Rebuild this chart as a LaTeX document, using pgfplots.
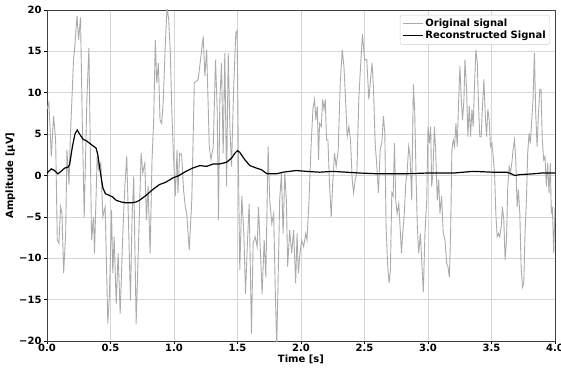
\documentclass[border=0pt]{standalone}
\usepackage{fontspec}
\setmainfont{DejaVu Sans}
\usepackage{pgfplots}
\pgfplotsset{compat=1.18}
\usepackage{pgfplotstable}
\definecolor{origgrey}{HTML}{ABABAB}
\definecolor{gridgrey}{HTML}{D6D6D6}
\pgfplotstableread{
t v
0.000 8.0
0.015 8.8
0.034 2.3
0.052 7.2
0.068 4.3
0.081 -7.8
0.094 -8.2
0.107 -3.8
0.118 -4.6
0.131 -11.8
0.147 -7.0
0.157 3.1
0.173 -1.1
0.183 4.3
0.209 14.0
0.217 15.2
0.236 19.3
0.249 16.4
0.264 19.1
0.277 7.2
0.293 -5.0
0.314 9.2
0.330 15.4
0.351 -7.8
0.366 -5.0
0.374 -9.4
0.395 2.3
0.408 0.7
0.424 1.5
0.440 -5.0
0.458 -3.8
0.479 -17.9
0.492 -14.3
0.508 -4.2
0.518 -11.8
0.529 -7.4
0.545 -15.5
0.560 -9.4
0.576 -16.7
0.597 -7.0
0.613 -1.3
0.628 2.3
0.644 -7.0
0.657 -15.1
0.670 -5.0
0.683 -0.1
0.702 -17.9
0.723 -7.0
0.741 2.7
0.754 0.3
0.770 1.5
0.783 -5.4
0.796 -1.3
0.812 -9.4
0.827 1.9
0.840 6.7
0.853 16.4
0.864 11.2
0.877 13.6
0.890 6.7
0.903 6.3
0.916 9.2
0.932 16.0
0.945 20.3
0.958 18.9
0.971 14.8
0.984 7.2
0.995 2.7
1.010 -2.5
1.024 3.1
1.031 -2.1
1.045 2.7
1.060 2.5
1.075 -1.7
1.089 -3.8
1.100 -4.6
1.120 -9.0
1.140 -3.0
1.160 11.2
1.190 11.6
1.209 14.0
1.230 16.8
1.243 12.0
1.257 15.2
1.278 3.5
1.291 1.9
1.309 3.5
1.327 14.0
1.340 8.0
1.350 -5.4
1.361 9.2
1.374 13.6
1.387 2.7
1.400 14.8
1.414 -1.3
1.427 14.8
1.440 5.9
1.453 1.1
1.471 11.2
1.487 17.3
1.497 17.5
1.508 0.3
1.518 -11.4
1.534 -2.5
1.550 -7.0
1.563 -14.3
1.579 -7.8
1.592 -3.4
1.610 -19.1
1.623 -8.2
1.639 -7.4
1.655 -8.6
1.665 -3.8
1.681 -9.4
1.694 -14.3
1.710 -7.8
1.723 -12.3
1.741 3.5
1.754 -3.0
1.770 -5.8
1.785 -4.6
1.798 -14.3
1.809 -20.5
1.822 -11.0
1.832 -3.0
1.846 0.3
1.859 -7.0
1.872 0.3
1.885 -3.0
1.895 -11.0
1.911 -6.6
1.927 -9.4
1.942 -6.6
1.958 -13.0
1.969 -7.0
1.979 -11.8
1.992 -9.4
2.005 -7.8
2.021 -8.6
2.037 -7.0
2.047 -7.8
2.063 -3.0
2.079 3.5
2.094 8.0
2.107 9.2
2.117 6.7
2.128 8.4
2.138 1.9
2.146 6.3
2.160 5.9
2.170 9.2
2.181 8.0
2.191 9.2
2.201 4.3
2.212 4.3
2.225 -1.3
2.238 -5.0
2.251 -0.5
2.264 2.7
2.277 1.1
2.293 3.1
2.309 11.2
2.325 15.2
2.338 13.2
2.351 9.2
2.364 4.7
2.377 5.9
2.390 4.3
2.403 -0.5
2.414 -2.1
2.427 -0.5
2.440 0.3
2.455 9.2
2.469 13.2
2.484 17.1
2.500 14.0
2.518 14.0
2.534 9.2
2.550 12.0
2.560 13.6
2.571 10.4
2.584 3.9
2.597 1.1
2.610 -2.1
2.623 3.1
2.636 3.9
2.649 7.2
2.660 5.1
2.670 -6.2
2.683 -11.0
2.694 -13.0
2.704 -11.4
2.715 -2.1
2.725 -2.5
2.736 3.9
2.746 -3.0
2.757 -4.6
2.770 -3.4
2.780 -6.2
2.791 -9.4
2.801 -7.0
2.812 -5.0
2.825 -0.9
2.835 0.3
2.848 3.5
2.859 2.3
2.872 -3.0
2.885 11.0
2.895 8.0
2.906 -0.1
2.916 -6.2
2.927 -9.4
2.940 -7.0
2.953 -11.0
2.963 -14.1
2.976 -7.0
2.990 -3.0
3.000 5.9
3.010 3.9
3.021 5.9
3.029 -1.3
3.039 0.3
3.050 5.9
3.060 3.1
3.073 -3.0
3.084 -0.5
3.094 -4.6
3.107 -2.5
3.120 -7.0
3.134 -7.8
3.147 -10.6
3.157 -11.0
3.168 -12.3
3.178 -7.0
3.188 3.1
3.199 4.3
3.209 3.5
3.220 6.3
3.230 3.5
3.240 8.4
3.251 13.2
3.262 9.2
3.272 6.7
3.283 9.2
3.291 14.0
3.304 10.4
3.314 4.7
3.325 8.4
3.335 4.7
3.346 8.0
3.356 5.9
3.366 10.8
3.377 15.2
3.388 13.6
3.398 8.4
3.408 4.7
3.419 4.7
3.429 8.4
3.440 11.6
3.450 7.6
3.461 4.7
3.471 8.0
3.482 6.7
3.492 3.5
3.503 3.9
3.513 2.3
3.524 0.3
3.534 -4.6
3.545 -7.4
3.555 -7.0
3.565 -7.4
3.576 -6.2
3.586 -3.8
3.597 -5.4
3.607 -10.2
3.618 -7.8
3.628 -1.3
3.639 1.1
3.649 0.3
3.660 1.5
3.670 3.1
3.681 4.3
3.691 1.9
3.702 -3.8
3.712 -1.7
3.723 -4.6
3.733 -11.0
3.744 -13.5
3.754 -13.0
3.764 -7.0
3.775 -3.0
3.785 2.7
3.796 5.1
3.806 3.9
3.817 6.7
3.827 9.2
3.838 14.8
3.848 7.6
3.859 3.5
3.869 7.2
3.880 10.4
3.890 10.4
3.900 4.3
3.911 1.9
3.921 2.3
3.932 -1.3
3.942 1.5
3.953 -2.1
3.963 1.5
3.971 -4.6
3.979 -3.8
3.990 -9.4
4.000 -3.8
}\original
\pgfplotstableread{
t v
0.000 0.3
0.034 0.8
0.060 0.6
0.086 0.2
0.110 0.5
0.140 0.9
0.165 1.0
0.178 1.3
0.200 3.5
0.220 5.0
0.238 5.5
0.257 5.0
0.283 4.4
0.310 4.2
0.335 3.9
0.361 3.6
0.387 3.3
0.400 2.5
0.419 0.5
0.440 -1.5
0.460 -2.2
0.490 -2.4
0.518 -2.6
0.545 -3.0
0.584 -3.2
0.623 -3.3
0.662 -3.3
0.702 -3.2
0.728 -3.0
0.780 -2.4
0.832 -1.7
0.885 -1.1
0.937 -0.8
0.990 -0.3
1.040 0.0
1.094 0.5
1.147 0.9
1.204 1.2
1.257 1.1
1.309 1.4
1.361 1.4
1.414 1.6
1.453 2.1
1.480 2.7
1.500 3.0
1.518 2.8
1.558 1.9
1.597 1.2
1.649 0.9
1.688 0.7
1.733 0.2
1.767 0.2
1.806 0.2
1.859 0.4
1.910 0.5
1.963 0.6
2.042 0.5
2.147 0.4
2.250 0.5
2.356 0.4
2.460 0.3
2.617 0.2
2.800 0.2
3.000 0.3
3.200 0.3
3.356 0.5
3.510 0.4
3.618 0.4
3.657 0.2
3.683 0.0
3.720 0.1
3.827 0.2
3.893 0.3
4.000 0.3
}\recon
\begin{document}
\begin{tikzpicture}
\begin{axis}[
  scale only axis,
  width=508pt, height=331pt,
  xmin=0, xmax=4, ymin=-20, ymax=20,
  xtick={0,0.5,1,1.5,2,2.5,3,3.5,4},
  xticklabels={0.0,0.5,1.0,1.5,2.0,2.5,3.0,3.5,4.0},
  ytick={-20,-15,-10,-5,0,5,10,15,20},
  yticklabels={−20,−15,−10,−5,0,5,10,15,20},
  xtick pos=bottom, ytick pos=left,
  tick align=outside,
  major tick length=3pt,
  tick style={black, line width=0.6pt},
  grid=major,
  major grid style={gridgrey, line width=0.7pt},
  axis line style={black!75, line width=0.7pt},
  tick label style={font=\bfseries\fontsize{10}{11}\selectfont},
  yticklabel style={xshift=1pt},
  xticklabel style={yshift=3pt},
  label style={font=\bfseries\fontsize{10}{11}\selectfont},
  xlabel={Time [s]},
  ylabel={Amplitude [μV]},
  xlabel style={yshift=4pt},
  ylabel style={yshift=-3pt},
  legend style={at={(0.99,0.985)}, anchor=north east, draw=black!20,
    rounded corners=2pt, fill=white, fill opacity=0.85, text opacity=1,
    font=\bfseries\fontsize{10}{12}\selectfont, inner sep=2pt, row sep=-1pt},
  legend cell align=left,
  legend image code/.code={\draw[#1] (0pt,0pt) -- (20pt,0pt);},
]
\addplot[origgrey, line width=0.9pt] table[x=t,y=v]{\original};
\addlegendentry{Original signal}
\addplot[black, line width=1.2pt] table[x=t,y=v]{\recon};
\addlegendentry{Reconstructed Signal}
\end{axis}
\pgfresetboundingbox
\useasboundingbox (-47pt,-28pt) rectangle (514pt,341pt);
\end{tikzpicture}
\end{document}
